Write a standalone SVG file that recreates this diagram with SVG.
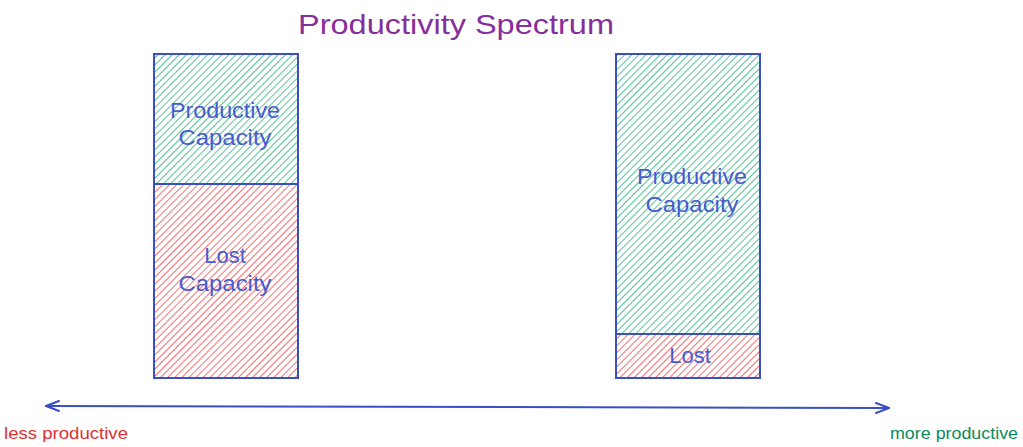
<svg xmlns="http://www.w3.org/2000/svg" width="1023" height="447" viewBox="0 0 1023 447">
<style>
.box{stroke:#3b4fc4;stroke-width:2;}
.lbl{font-family:"Liberation Sans",Arial,sans-serif;font-size:22px;fill:#4a5bd0;text-anchor:middle;dominant-baseline:central;}
.title{font-family:"Liberation Sans",Arial,sans-serif;font-size:28px;fill:#862e9c;text-anchor:middle;dominant-baseline:central;}
.axis{font-family:"Liberation Sans",Arial,sans-serif;font-size:17px;dominant-baseline:central;}
.conn{stroke:#3b4fc4;stroke-width:2;fill:none;stroke-linecap:round;stroke-linejoin:round;}
</style>
<defs>
<pattern id="hg" patternUnits="userSpaceOnUse" width="5" height="5" patternTransform="rotate(45)">
<line x1="0" y1="0" x2="0" y2="5" stroke="#2fb380" stroke-width="1.6"/>
</pattern>
<pattern id="hr" patternUnits="userSpaceOnUse" width="5" height="5" patternTransform="rotate(45)">
<line x1="0" y1="0" x2="0" y2="5" stroke="#f24a4a" stroke-width="1.6"/>
</pattern>
</defs>
<rect width="1023" height="447" fill="#ffffff"/>
<g id="title"><text class="title" x="456" y="24" textLength="316" lengthAdjust="spacingAndGlyphs">Productivity Spectrum</text></g>
<g id="left-productive">
<rect class="box" x="154" y="54" width="144" height="130" fill="url(#hg)"/>
<text class="lbl" x="225" y="110" textLength="110" lengthAdjust="spacingAndGlyphs">Productive</text>
<text class="lbl" x="225" y="137" textLength="93" lengthAdjust="spacingAndGlyphs">Capacity</text>
</g>
<g id="left-lost">
<rect class="box" x="154" y="184" width="144" height="194" fill="url(#hr)"/>
<text class="lbl" x="225" y="255">Lost</text>
<text class="lbl" x="225" y="283" textLength="93" lengthAdjust="spacingAndGlyphs">Capacity</text>
</g>
<g id="right-productive">
<rect class="box" x="616" y="54" width="144" height="280" fill="url(#hg)"/>
<text class="lbl" x="692" y="176" textLength="110" lengthAdjust="spacingAndGlyphs">Productive</text>
<text class="lbl" x="692" y="204" textLength="93" lengthAdjust="spacingAndGlyphs">Capacity</text>
</g>
<g id="right-lost">
<rect class="box" x="616" y="334" width="144" height="44" fill="url(#hr)"/>
<text class="lbl" x="690" y="355">Lost</text>
</g>
<g id="connectors">
<path class="conn" d="M46,406 L889,408"/>
<path class="conn" d="M59,401 L46,406 L59,411"/>
<path class="conn" d="M876,403 L889,408 L876,413"/>
</g>
<g id="label-less"><text class="axis" x="4" y="433" fill="#e03131" textLength="124" lengthAdjust="spacingAndGlyphs">less productive</text></g>
<g id="label-more"><text class="axis" x="890" y="433" fill="#0c8a5a" textLength="128" lengthAdjust="spacingAndGlyphs">more productive</text></g>
</svg>
